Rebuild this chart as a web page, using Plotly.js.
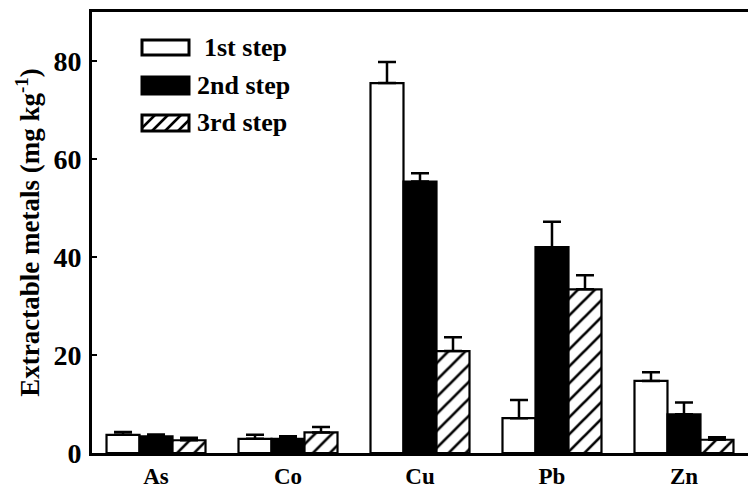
<!DOCTYPE html>
<html>
<head>
<meta charset="utf-8">
<script src="https://cdn.plot.ly/plotly-3.0.1.min.js"></script>
<style>
  html, body { margin: 0; padding: 0; background: #fff; }
  #chart { width: 748px; height: 490px; }
</style>
</head>
<body>
<div id="chart"></div>
<script>
// Extractable metal concentrations (mg/kg) for three sequential extraction steps
const metals = ['As', 'Co', 'Cu', 'Pb', 'Zn'];
const seriesNames = ['1st step', '2nd step', '3rd step'];

const step1 = [3.7, 2.9, 75.5, 7.1, 14.7];
const step1Err = [0.6, 0.8, 4.3, 3.7, 1.8];

const step2 = [3.4, 2.9, 55.4, 42.0, 7.9];
const step2Err = [0.4, 0.5, 1.7, 5.2, 2.4];

const step3 = [2.6, 4.2, 20.8, 33.4, 2.7];
const step3Err = [0.5, 1.1, 2.8, 2.9, 0.5];

const yTicks = [0, 20, 40, 60, 80];

const FONT = 'Liberation Serif, Times New Roman, serif';

function errUp(arr) {
  return {
    type: 'data', array: arr, arrayminus: arr.map(() => 0), symmetric: false,
    color: '#000', thickness: 2.5, width: 9, visible: true
  };
}

const traces = [
  {
    type: 'bar', name: seriesNames[0], x: metals, y: step1,
    marker: { color: '#fff', line: { color: '#000', width: 2.2 } },
    error_y: errUp(step1Err)
  },
  {
    type: 'bar', name: seriesNames[1], x: metals, y: step2,
    marker: { color: '#000', line: { color: '#000', width: 2.2 } },
    error_y: errUp(step2Err)
  },
  {
    type: 'bar', name: seriesNames[2], x: metals, y: step3,
    marker: {
      color: '#fff', line: { color: '#000', width: 2.2 },
      pattern: { shape: '/', fgcolor: '#000', bgcolor: '#fff', size: 12, solidity: 0.22 }
    },
    error_y: errUp(step3Err)
  }
];

// Plot area geometry (pixels) used to place the hand-built key
const W = 748, H = 490;
const M = { l: 92, r: 0, t: 12, b: 37 };
const PW = W - M.l - M.r, PH = H - M.t - M.b;
const px = x => (x - M.l) / PW;
const py = y => (H - M.b - y) / PH;

// Key: swatch boxes + labels
const keyRows = [
  { y0: 40, y1: 55, fill: '#fff', hatch: false, tx: 202 },
  { y0: 77, y1: 94, fill: '#000', hatch: false, tx: 195 },
  { y0: 115, y1: 131, fill: '#fff', hatch: true, tx: 195 }
];
const keyX0 = 142, keyX1 = 189;

const shapes = [];
const annotations = [];
keyRows.forEach((r, i) => {
  shapes.push({
    type: 'rect', xref: 'paper', yref: 'paper',
    x0: px(keyX0), x1: px(keyX1), y0: py(r.y1), y1: py(r.y0),
    fillcolor: r.fill, line: { color: '#000', width: 3 }, layer: 'above'
  });
  if (r.hatch) {
    const hgt = r.y1 - r.y0;
    let path = '';
    for (let sx = keyX0 - hgt; sx < keyX1; sx += 13) {
      // segment from bottom (sx, y1) to top (sx+hgt, y0), clipped to the box
      let xa = sx, ya = r.y1, xb = sx + hgt, yb = r.y0;
      if (xa < keyX0) { ya = r.y1 - (keyX0 - xa); xa = keyX0; }
      if (xb > keyX1) { yb = r.y0 + (xb - keyX1); xb = keyX1; }
      if (xb <= xa) continue;
      path += `M${px(xa)},${py(ya)}L${px(xb)},${py(yb)}`;
    }
    shapes.push({
      type: 'path', xref: 'paper', yref: 'paper', path: path,
      line: { color: '#000', width: 2.5 }, layer: 'above'
    });
  }
  annotations.push({
    xref: 'paper', yref: 'paper', x: px(r.tx), y: py((r.y0 + r.y1) / 2),
    xanchor: 'left', yanchor: 'middle', showarrow: false,
    text: '<b>' + seriesNames[i] + '</b>',
    font: { family: FONT, size: 26, color: '#000' }
  });
});

const layout = {
  width: W, height: H,
  margin: M,
  paper_bgcolor: '#fff', plot_bgcolor: '#fff',
  showlegend: false,
  barmode: 'group', bargap: 0.25, bargroupgap: 0,
  font: { family: FONT, color: '#000' },
  xaxis: {
    type: 'category', range: [-0.485, 4.485],
    showline: true, linecolor: '#000', linewidth: 3, mirror: true,
    ticks: '', showgrid: false, zeroline: false,
    tickfont: { family: FONT, size: 23, color: '#000', weight: 'bold' },
    ticklabelstandoff: 0
  },
  yaxis: {
    range: [0, 90], tickvals: yTicks, ticktext: yTicks.map(String),
    showline: true, linecolor: '#000', linewidth: 3,
    ticks: 'inside', ticklen: 5, tickwidth: 2, tickcolor: '#000',
    showgrid: false, zeroline: false,
    tickfont: { family: FONT, size: 28, color: '#000', weight: 'bold' },
    ticklabelstandoff: 2,
    title: {
      text: '<b>Extractable metals (mg kg<sup>-1</sup>)</b>',
      font: { family: FONT, size: 27, color: '#000' },
      standoff: 6
    }
  },
  shapes: shapes,
  annotations: annotations
};

Plotly.newPlot('chart', traces, layout, { displayModeBar: false, staticPlot: true });
</script>
</body>
</html>
